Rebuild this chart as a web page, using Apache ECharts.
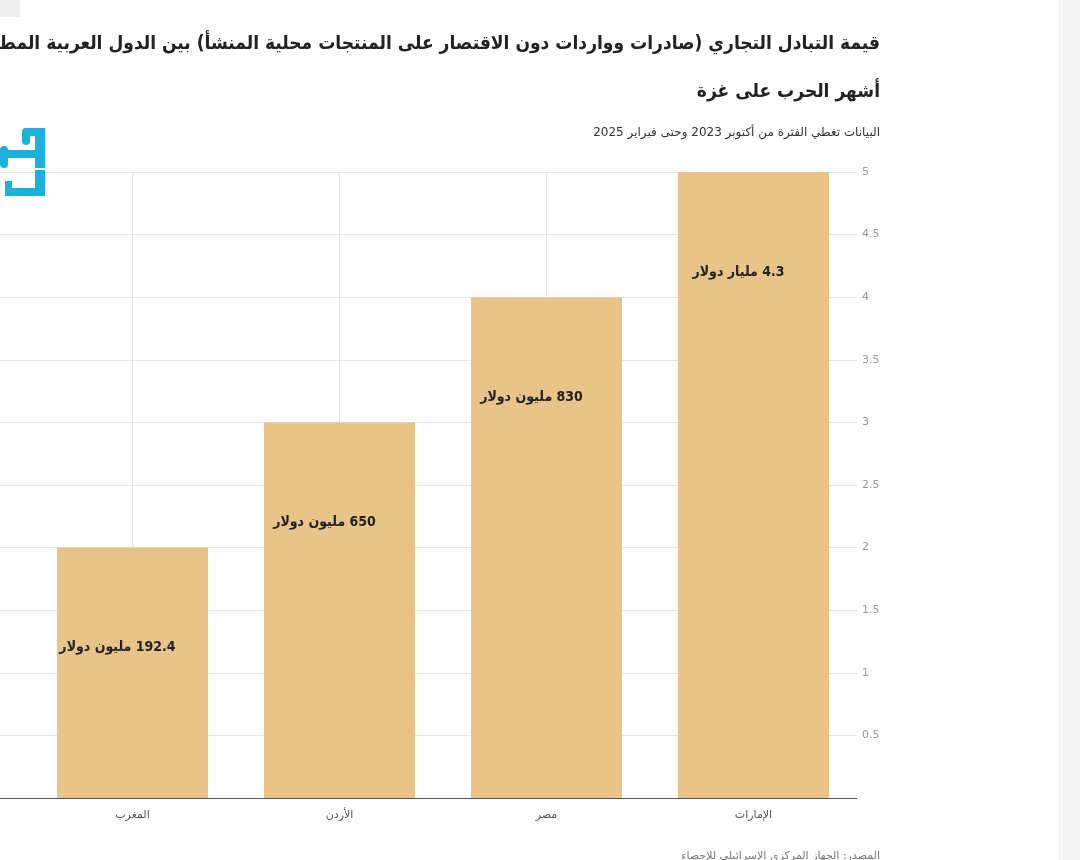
<!DOCTYPE html>
<html>
<head>
<meta charset="utf-8">
<script src="https://cdn.jsdelivr.net/npm/echarts@6/dist/echarts.min.js"></script>
<style>
  html, body { margin: 0; padding: 0; background: #fff; }
  #main { width: 1080px; height: 860px; }
</style>
</head>
<body>
<div id="main" dir="rtl"></div>
<script>
// الفئات من اليمين إلى اليسار
const categories = ['الإمارات', 'مصر', 'الأردن', 'المغرب'];
const values = [5, 4, 3, 2];
const barLabels = ['4.3 مليار دولار', '830 مليون دولار', '650 مليون دولار', '192.4 مليون دولار'];
const yTicks = { min: 0, max: 5, interval: 0.5 };

const titleLine1 = 'قيمة التبادل التجاري (صادرات وواردات دون الاقتصار على المنتجات محلية المنشأ) بين الدول العربية المطبعة وإسرائيل خلال';
const titleLine2 = 'أشهر الحرب على غزة';
const subtitle = 'البيانات تغطي الفترة من أكتوبر 2023 وحتى فبراير 2025';
const source = 'المصدر: الجهاز المركزي الإسرائيلي للإحصاء';

const FONT = "'DejaVu Sans', sans-serif";
const FONT_C = "'DejaVu Sans Condensed', 'DejaVu Sans', sans-serif";
const LOGO = '#1cb0dc';
const chart = echarts.init(document.getElementById('main'));

const yBase = {
  type: 'value',
  min: yTicks.min,
  max: yTicks.max,
  interval: yTicks.interval,
  axisLine: { show: false },
  axisTick: { show: false },
  splitLine: { lineStyle: { color: '#e6e6e6', width: 1 } }
};

chart.setOption({
  animation: false,
  backgroundColor: '#fff',
  textStyle: { fontFamily: FONT },
  grid: [
    { left: 29, right: 223, top: 172, bottom: 62 },
    // امتداد الشبكة حتى حافة الصورة اليسرى (الجزء المقصوص)
    { left: 0, width: 29, top: 172, bottom: 62 }
  ],
  xAxis: [
    {
      type: 'category',
      data: categories,
      inverse: true,
      axisLine: { lineStyle: { color: '#555', width: 1 } },
      axisTick: { show: false },
      splitLine: { show: false },
      axisLabel: { color: '#555', fontSize: 11, margin: 12, fontFamily: FONT }
    },
    {
      gridIndex: 1,
      type: 'value',
      min: 0, max: 1,
      axisLine: { show: true, onZero: false, lineStyle: { color: '#555', width: 1 } },
      axisTick: { show: false },
      axisLabel: { show: false },
      splitLine: { show: false }
    }
  ],
  yAxis: [
    Object.assign({}, yBase, {
      position: 'right',
      axisLabel: {
        color: '#999', fontSize: 11, margin: 5, fontFamily: FONT,
        formatter: v => (v === 0 ? '' : String(v))
      }
    }),
    Object.assign({}, yBase, { gridIndex: 1, axisLabel: { show: false } })
  ],
  series: [
    {
      // خطوط عمودية خفيفة في منتصف كل فئة خلف الأعمدة
      type: 'line',
      data: [],
      z: 1,
      silent: true,
      markLine: {
        z: 1,
        silent: true,
        symbol: 'none',
        label: { show: false },
        lineStyle: { color: '#e6e6e6', width: 1, type: 'solid' },
        data: categories.map(c => ({ xAxis: c }))
      }
    },
    {
      type: 'bar',
      data: values,
      z: 3,
      barWidth: '73%',
      itemStyle: { color: '#e8c489' },
      label: {
        show: true,
        position: 'insideTop',
        distance: 93,
        offset: [-15, 0],
        color: '#222',
        fontSize: 14,
        fontWeight: 'bold',
        fontFamily: FONT_C,
        formatter: p => barLabels[p.dataIndex]
      }
    }
  ],
  graphic: [
    { type: 'rect', shape: { x: 1058, y: 0, width: 22, height: 860 }, style: { fill: '#f5f5f5' }, silent: true },
    { type: 'rect', shape: { x: 0, y: 0, width: 20, height: 17 }, style: { fill: '#eeeeee' }, silent: true },
    { type: 'text', right: 200, top: 35, style: { text: titleLine1, fill: '#222', font: 'bold 19px ' + FONT_C, textAlign: 'right' } },
    { type: 'text', right: 200, top: 83, style: { text: titleLine2, fill: '#222', font: 'bold 19px ' + FONT_C, textAlign: 'right' } },
    { type: 'text', right: 200, top: 127, style: { text: subtitle, fill: '#333', font: '12px ' + FONT, textAlign: 'right' } },
    { type: 'text', right: 200, top: 851, style: { text: source, fill: '#777', font: '11px ' + FONT, textAlign: 'right' } },
    // شعار مقصوص على اليسار
    {
      type: 'group', left: 0, top: 128, silent: true, z: 20,
      children: [
        { type: 'rect', z: 20, shape: { x: 35, y: 2, width: 10, height: 40 }, style: { fill: LOGO } },
        { type: 'rect', z: 20, shape: { x: 23, y: 2, width: 22, height: 8, r: [4, 0, 0, 4] }, style: { fill: LOGO } },
        { type: 'rect', z: 20, shape: { x: 22, y: 2, width: 8, height: 17, r: 4 }, style: { fill: LOGO } },
        { type: 'rect', z: 20, shape: { x: 0, y: 24, width: 36, height: 8 }, style: { fill: LOGO } },
        { type: 'rect', z: 20, shape: { x: 0, y: 20, width: 8, height: 22, r: 4 }, style: { fill: LOGO } },
        { type: 'rect', z: 20, shape: { x: 35, y: 44, width: 10, height: 26 }, style: { fill: LOGO } },
        { type: 'rect', z: 20, shape: { x: 5, y: 62, width: 40, height: 8 }, style: { fill: LOGO } },
        { type: 'rect', z: 20, shape: { x: 5, y: 55, width: 7, height: 15 }, style: { fill: LOGO } }
      ]
    }
  ]
});
</script>
</body>
</html>
